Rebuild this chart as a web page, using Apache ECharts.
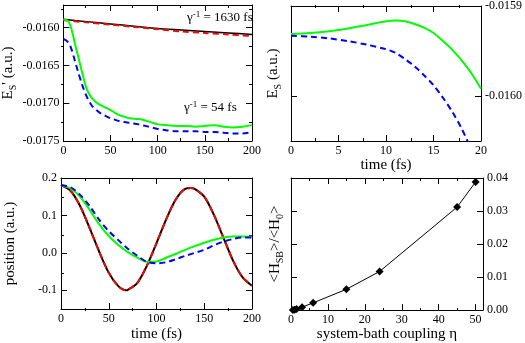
<!DOCTYPE html>
<html lang="en">
<head>
  <meta charset="UTF-8">
  <title>Document</title>
  <script src="https://cdn.jsdelivr.net/npm/echarts@6/dist/echarts.min.js"></script>
  <style>
    body { margin: 0; background: #fff; }
    #main { width: 525px; height: 343px; }
  </style>
</head>
<body>
  <div id="main"></div>
<script>
  // ---- top left: E_S' over 200 fs ----
  let p1TimeSlow = [0, 25, 50, 75, 100, 125, 150, 175, 200];
  let p1Black = [-0.01589, -0.01592, -0.01595, -0.01598, -0.01601, -0.01603, -0.01605, -0.01607, -0.01609];
  let p1Red = [-0.01590, -0.01593, -0.01596, -0.01599, -0.01602, -0.01605, -0.01607, -0.01609, -0.01611];
  let p1TimeFast = [0, 3, 6, 9, 12, 15, 20, 25, 30, 35, 40, 45, 50, 55, 60, 65, 70, 80, 90, 100, 110, 120, 130, 140, 150, 160, 170, 180, 190, 200];
  let p1Green = [-0.01589, -0.01590, -0.01593, -0.01604, -0.01620, -0.01635, -0.01660, -0.01682, -0.01693, -0.01699,
    -0.01703, -0.01706, -0.01709, -0.01713, -0.01716, -0.01718, -0.01720, -0.01721, -0.01724, -0.01728,
    -0.01729, -0.01730, -0.01730, -0.01731, -0.01730, -0.01729, -0.01731, -0.01732, -0.01731, -0.01729];
  let p1Blue = [-0.01615, -0.01617, -0.01621, -0.01630, -0.01643, -0.01656, -0.01676, -0.01692, -0.01703, -0.01709,
    -0.01714, -0.01717, -0.01720, -0.01722, -0.01724, -0.01725, -0.01726, -0.01728, -0.01731, -0.01734,
    -0.01736, -0.01737, -0.01737, -0.01737, -0.01738, -0.01738, -0.01739, -0.01740, -0.01740, -0.01738];

  // ---- top right: E_S over the first 20 fs ----
  let p2Time = [0, 2, 4, 6, 8, 10, 11, 12, 13, 14, 15, 16, 17, 18, 19, 20];
  let p2Green = [-0.015931, -0.015930, -0.015928, -0.015925, -0.015921, -0.015917, -0.015916, -0.015917,
    -0.015920, -0.015924, -0.015930, -0.015939, -0.015949, -0.015961, -0.015975, -0.015992];
  let p2BlueTime = [0, 2, 4, 6, 8, 10, 11, 12, 13, 14, 15, 16, 17, 18, 19];
  let p2Blue = [-0.015933, -0.015934, -0.015936, -0.015939, -0.015943, -0.015948, -0.015952, -0.015959,
    -0.015967, -0.015977, -0.015988, -0.016002, -0.016018, -0.016037, -0.016060];

  // ---- bottom left: position ----
  let p3TimeOsc = [0, 10, 20, 30, 40, 50, 60, 68, 70, 80, 90, 100, 110, 120, 130, 136, 140, 150, 160, 170, 180, 190, 200];
  let p3Black = [0.181, 0.166, 0.125, 0.066, 0.003, -0.053, -0.089, -0.100, -0.099, -0.080, -0.034, 0.026,
    0.089, 0.142, 0.171, 0.173, 0.171, 0.150, 0.102, 0.041, -0.020, -0.065, -0.088];
  let p3Red = [0.181, 0.166, 0.125, 0.066, 0.003, -0.053, -0.089, -0.100, -0.099, -0.080, -0.034, 0.026,
    0.089, 0.142, 0.171, 0.173, 0.171, 0.150, 0.102, 0.041, -0.020, -0.065, -0.088];
  let p3Time = [0, 10, 20, 30, 40, 50, 60, 70, 80, 90, 100, 110, 120, 130, 140, 150, 160, 170, 180, 190, 200];
  let p3Green = [0.181, 0.172, 0.150, 0.115, 0.076, 0.045, 0.021, 0.002, -0.013, -0.024, -0.023,
    -0.013, -0.003, 0.008, 0.018, 0.027, 0.035, 0.041, 0.044, 0.044, 0.043];
  let p3Blue = [0.181, 0.175, 0.155, 0.125, 0.088, 0.058, 0.034, 0.011, -0.008, -0.024, -0.028,
    -0.025, -0.017, -0.008, 0.000, 0.008, 0.020, 0.030, 0.037, 0.041, 0.041];

  // ---- bottom right: <H_SB>/<H_0> vs eta ----
  let p4Eta = [0.5, 1, 1.5, 3, 6, 15, 24, 45, 50];
  let p4Ratio = [0.0000, 0.0001, 0.0003, 0.0009, 0.0022, 0.0063, 0.0117, 0.0312, 0.0388];

  // tick positions
  let timeTicks = [0, 50, 100, 150, 200];
  let timeMinor = [25, 75, 125, 175];
  let p1YTicks = [-0.0175, -0.017, -0.0165, -0.016];
  let p1YMinor = [-0.01725, -0.01675, -0.01625, -0.01575];
  let p2XTicks = [0, 5, 10, 15, 20];
  let p2XMinor = [2.5, 7.5, 12.5, 17.5];
  let p2YTicks = [-0.016, -0.0159];
  let p3YTicks = [-0.1, 0, 0.1, 0.2];
  let p3YMinor = [-0.05, 0.05, 0.15];
  let p4XTicks = [0, 10, 20, 30, 40, 50];
  let p4XMinor = [5, 15, 25, 35, 45];
  let p4YTicks = [0, 0.01, 0.02, 0.03, 0.04];

  const serif = 'Liberation Serif';
  const panels = [
    {left: 61, top: 5, width: 191, height: 136},
    {left: 291, top: 5, width: 192, height: 136},
    {left: 61, top: 178, width: 191, height: 133},
    {left: 291, top: 178, width: 192, height: 133}
  ];
  // grids 0-3 carry data + major ticks, grids 4-7 sit on top only for minor ticks
  let grids = panels.concat(panels).map(p => Object.assign({}, p));

  const nameStyle = {
    fontFamily: serif, fontSize: 15, color: '#000',
    rich: {
      m: {fontFamily: serif, fontSize: 15, lineHeight: 20, color: '#000'},
      s: {fontFamily: serif, fontSize: 10, verticalAlign: 'bottom', color: '#000'}
    }
  };

  function major(gi, pos, min, max, ticks, fmt, extra) {
    return Object.assign({
      type: 'value', gridIndex: gi, position: pos, min: min, max: max,
      axisLine: {show: true, onZero: false, lineStyle: {color: '#000', width: 1}},
      axisTick: {show: true, inside: true, length: 6, customValues: ticks, lineStyle: {color: '#000'}},
      axisLabel: {show: !!fmt, customValues: ticks, formatter: fmt, color: '#000',
        fontFamily: serif, fontSize: 12, margin: 4},
      splitLine: {show: false}
    }, extra || {});
  }
  function minor(gi, pos, min, max, ticks) {
    return {
      type: 'value', gridIndex: gi, position: pos, min: min, max: max,
      axisLine: {show: false, onZero: false},
      axisTick: {show: true, inside: true, length: 3, customValues: ticks, lineStyle: {color: '#000'}},
      axisLabel: {show: false},
      splitLine: {show: false}
    };
  }
  function blank(gi) {
    return {type: 'value', gridIndex: gi, show: false, splitLine: {show: false}};
  }
  const intFmt = v => String(v);

  let xAxes = [
    major(0, 'bottom', 0, 200, timeTicks, intFmt),
    major(0, 'top', 0, 200, timeTicks, null),
    major(1, 'bottom', 0, 20, p2XTicks, intFmt, {
      name: 'time (fs)', nameLocation: 'middle', nameGap: 17, nameTextStyle: nameStyle
    }),
    major(1, 'top', 0, 20, p2XTicks, null),
    major(2, 'bottom', 0, 200, timeTicks, intFmt, {
      name: 'time (fs)', nameLocation: 'middle', nameGap: 18, nameTextStyle: nameStyle
    }),
    major(2, 'top', 0, 200, timeTicks, null),
    major(3, 'bottom', 0, 52, p4XTicks, intFmt, {
      name: 'system-bath coupling η', nameLocation: 'middle', nameGap: 13, nameTextStyle: nameStyle
    }),
    major(3, 'top', 0, 52, p4XTicks, null),
    minor(4, 'bottom', 0, 200, timeMinor), minor(4, 'top', 0, 200, timeMinor),
    minor(5, 'bottom', 0, 20, p2XMinor), minor(5, 'top', 0, 20, p2XMinor),
    minor(6, 'bottom', 0, 200, timeMinor), minor(6, 'top', 0, 200, timeMinor),
    minor(7, 'bottom', 0, 52, p4XMinor), minor(7, 'top', 0, 52, p4XMinor)
  ];

  let yAxes = [
    major(0, 'left', -0.0175, -0.0157, p1YTicks, v => v.toFixed(4), {
      name: "{m|E}{s|S}{m|' (a.u.)}", nameLocation: 'middle', nameGap: 44, nameTextStyle: nameStyle
    }),
    major(0, 'right', -0.0175, -0.0157, p1YTicks, null),
    major(1, 'left', -0.01605, -0.0159, p2YTicks, null, {
      name: '{m|E}{s|S}{m| (a.u.)}', nameLocation: 'middle', nameGap: 8, nameTextStyle: nameStyle
    }),
    major(1, 'right', -0.01605, -0.0159, p2YTicks, v => v.toFixed(4)),
    major(2, 'left', -0.15, 0.2, p3YTicks, v => v.toFixed(1), {
      name: 'position (a.u.)', nameLocation: 'middle', nameGap: 43, nameTextStyle: nameStyle
    }),
    major(2, 'right', -0.15, 0.2, p3YTicks, null),
    major(3, 'left', 0, 0.04, p4YTicks, null, {
      name: '{m|<H}{s|SB}{m|>/<H}{s|0}{m|>}', nameLocation: 'middle', nameGap: 6, nameTextStyle: nameStyle
    }),
    major(3, 'right', 0, 0.04, p4YTicks, v => v.toFixed(2)),
    minor(4, 'left', -0.0175, -0.0157, p1YMinor), minor(4, 'right', -0.0175, -0.0157, p1YMinor),
    blank(5),
    minor(6, 'left', -0.15, 0.2, p3YMinor), minor(6, 'right', -0.15, 0.2, p3YMinor),
    blank(7)
  ];

  function zip(xs, ys) {
    return xs.map((x, i) => [x, ys[i]]);
  }
  function curve(xi, yi, xs, ys, color, width, dashed) {
    return {
      type: 'line', xAxisIndex: xi, yAxisIndex: yi, data: zip(xs, ys),
      showSymbol: false, smooth: 0.3, silent: true,
      lineStyle: {color: color, width: width, type: dashed ? [6, 4] : 'solid'}
    };
  }

  let series = [
    curve(0, 0, p1TimeSlow, p1Black, '#000000', 1.5, false),
    curve(0, 0, p1TimeSlow, p1Red, '#ff0000', 2, true),
    curve(0, 0, p1TimeFast, p1Green, '#00ff00', 2, false),
    curve(0, 0, p1TimeFast, p1Blue, '#0000ff', 2, true),
    curve(2, 3, p2Time, p2Green, '#00ff00', 2, false),
    curve(2, 3, p2BlueTime, p2Blue, '#0000ff', 2, true),
    curve(4, 4, p3TimeOsc, p3Black, '#000000', 2, false),
    curve(4, 4, p3TimeOsc, p3Red, '#ff0000', 2, true),
    curve(4, 4, p3Time, p3Green, '#00ff00', 2, false),
    curve(4, 4, p3Time, p3Blue, '#0000ff', 2, true),
    {
      type: 'line', xAxisIndex: 6, yAxisIndex: 7, data: zip(p4Eta, p4Ratio),
      symbol: 'diamond', symbolSize: 8, silent: true,
      itemStyle: {color: '#000'},
      lineStyle: {color: '#000', width: 1}
    }
  ];

  const annotRich = {
    m: {fontFamily: serif, fontSize: 13, lineHeight: 16, fill: '#000'},
    p: {fontFamily: serif, fontSize: 9, verticalAlign: 'top', fill: '#000'}
  };

  let myCharts = echarts.init(document.getElementById('main'));
  myCharts.setOption({
    animation: false,
    backgroundColor: '#fff',
    grid: grids,
    xAxis: xAxes,
    yAxis: yAxes,
    series: series,
    graphic: [
      {type: 'text', left: 187, top: 10, style: {text: '{m|γ}{p|-1}{m| = 1630 fs}', rich: annotRich}},
      {type: 'text', left: 184, top: 100, style: {text: '{m|γ}{p|-1}{m| = 54 fs}', rich: annotRich}}
    ]
  });
</script>
</body>
</html>
